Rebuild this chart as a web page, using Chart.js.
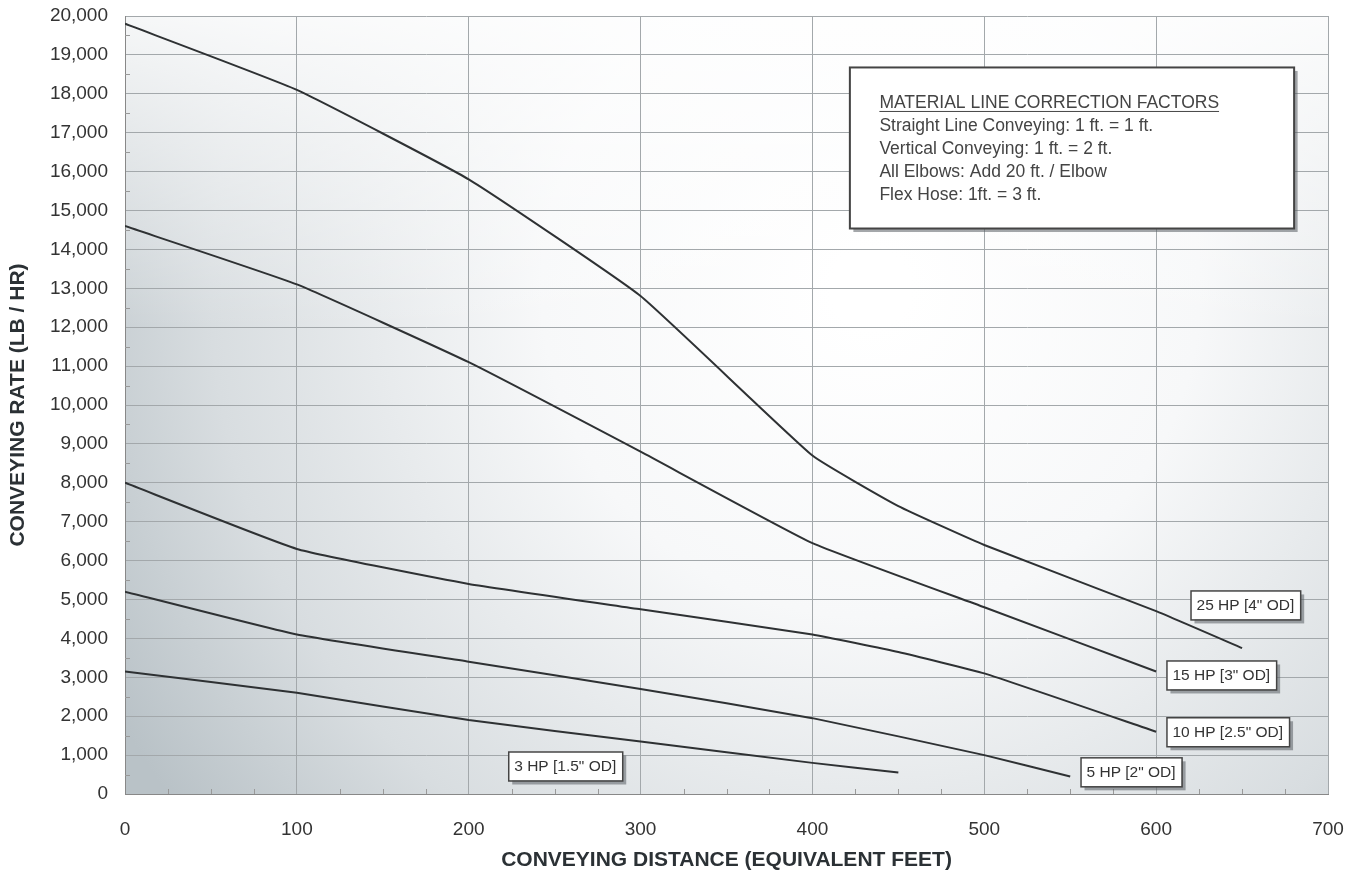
<!DOCTYPE html>
<html>
<head>
<meta charset="utf-8">
<title>Conveying Rate vs Distance</title>
<script src="https://cdn.jsdelivr.net/npm/chart.js"></script>
<style>
  html, body { margin: 0; padding: 0; background: #fff; }
  #wrap { width: 1358px; height: 873px; }
</style>
</head>
<body>
<div id="wrap"><canvas id="rateChart" width="1358" height="873"></canvas></div>
<script>
// distances (equivalent feet)
const dist25 = [0, 100, 200, 300, 400, 450, 500, 600, 650];
const hp25 = [19800, 18100, 15800, 12800, 8700, 7400, 6400, 4700, 3750];

const dist15 = [0, 100, 200, 300, 400, 500, 600];
const hp15 = [14600, 13100, 11100, 8800, 6450, 4800, 3150];

const dist10 = [0, 100, 200, 300, 400, 450, 500, 600];
const hp10 = [8000, 6300, 5400, 4750, 4100, 3650, 3100, 1600];

const dist5 = [0, 100, 200, 300, 400, 500, 550];
const hp5 = [5200, 4100, 3400, 2700, 1950, 1000, 450];

const dist3 = [0, 100, 200, 300, 400, 450];
const hp3 = [3150, 2600, 1900, 1350, 800, 550];

const seriesNames = ['25 HP [4" OD]', '15 HP [3" OD]', '10 HP [2.5" OD]', '5 HP [2" OD]', '3 HP [1.5" OD]'];
// where each tag sits (x, y in data units)
const tagX = [620, 606, 606, 556, 223];
const tagY = [4860, 3060, 1600, 570, 720];

const noteTitle = 'MATERIAL LINE CORRECTION FACTORS';
const noteLines = [
  'Straight Line Conveying: 1 ft. = 1 ft.',
  'Vertical Conveying: 1 ft. = 2 ft.',
  'All Elbows: Add 20 ft. / Elbow',
  'Flex Hose: 1ft. = 3 ft.'
];

function pts(xs, ys) {
  return xs.map((x, i) => ({ x: x, y: ys[i] }));
}

const FONT = '"Liberation Sans", Arial, sans-serif';

const bgPlugin = {
  id: 'bg',
  beforeDraw(chart) {
    const { ctx, chartArea: a } = chart;
    ctx.save();
    const g = ctx.createRadialGradient(a.left + a.width * 0.62, a.top + a.height * 0.35, 40,
                                       a.left + a.width * 0.62, a.top + a.height * 0.35, a.width * 0.72);
    g.addColorStop(0, '#ffffff');
    g.addColorStop(0.35, '#f7f8f9');
    g.addColorStop(0.75, '#d8dde0');
    g.addColorStop(1, '#b9c2c7');
    ctx.fillStyle = g;
    ctx.fillRect(a.left, a.top, a.width, a.height);
    // keep top band bright
    const g2 = ctx.createLinearGradient(0, a.top, 0, a.top + a.height * 0.4);
    g2.addColorStop(0, 'rgba(255,255,255,0.85)');
    g2.addColorStop(1, 'rgba(255,255,255,0)');
    ctx.fillStyle = g2;
    ctx.fillRect(a.left, a.top, a.width, a.height * 0.4);
    ctx.restore();
  }
};

function box(ctx, x, y, w, h, lw) {
  ctx.fillStyle = 'rgba(90,95,100,0.55)';
  ctx.fillRect(x + 4, y + 4, w, h);
  ctx.fillStyle = '#ffffff';
  ctx.fillRect(x, y, w, h);
  ctx.strokeStyle = '#444';
  ctx.lineWidth = lw;
  ctx.strokeRect(x + 0.5, y + 0.5, w, h);
}

const decoPlugin = {
  id: 'deco',
  afterDatasetsDraw(chart) {
    const { ctx, chartArea: a, scales } = chart;
    const xs = scales.x, ys = scales.y;
    ctx.save();
    // minor ticks
    ctx.strokeStyle = '#999';
    ctx.lineWidth = 1;
    for (let v = 25; v < 700; v += 25) {
      if (v % 100 === 0) continue;
      const px = Math.round(xs.getPixelForValue(v)) + 0.5;
      ctx.beginPath(); ctx.moveTo(px, a.bottom); ctx.lineTo(px, a.bottom - 5); ctx.stroke();
    }
    for (let v = 500; v < 20000; v += 1000) {
      const py = Math.round(ys.getPixelForValue(v)) + 0.5;
      ctx.beginPath(); ctx.moveTo(a.left, py); ctx.lineTo(a.left + 5, py); ctx.stroke();
    }

    // series tags
    ctx.font = '15.5px ' + FONT;
    ctx.textBaseline = 'middle';
    seriesNames.forEach((name, i) => {
      const x = xs.getPixelForValue(tagX[i]);
      const y = ys.getPixelForValue(tagY[i]);
      const w = ctx.measureText(name).width + 12;
      const h = 29;
      box(ctx, x, y - h / 2, w, h, 1.5);
      ctx.fillStyle = '#333';
      ctx.textAlign = 'left';
      ctx.fillText(name, x + 6, y + 1);
    });

    // correction factor note
    const nx = xs.getPixelForValue(421.5), ny = ys.getPixelForValue(18690);
    const nw = xs.getPixelForValue(680) - nx, nh = ys.getPixelForValue(14550) - ny;
    box(ctx, nx, ny, nw, nh, 2);
    ctx.fillStyle = '#444';
    ctx.font = '17.5px ' + FONT;
    ctx.textAlign = 'left';
    ctx.textBaseline = 'middle';
    const tx = nx + 30;
    let ty = ny + 36;
    ctx.fillText(noteTitle, tx, ty);
    const tw = ctx.measureText(noteTitle).width;
    ctx.strokeStyle = '#444';
    ctx.lineWidth = 1;
    ctx.beginPath(); ctx.moveTo(tx, ty + 8.5); ctx.lineTo(tx + tw, ty + 8.5); ctx.stroke();
    noteLines.forEach(line => {
      ty += 23;
      ctx.fillText(line, tx, ty);
    });
    ctx.restore();
  }
};

const lineStyle = {
  borderColor: '#2e3133',
  borderWidth: 2,
  pointRadius: 0,
  fill: false,
  tension: 0.12
};

new Chart(document.getElementById('rateChart'), {
  type: 'line',
  data: {
    datasets: [
      Object.assign({ label: seriesNames[0], data: pts(dist25, hp25) }, lineStyle),
      Object.assign({ label: seriesNames[1], data: pts(dist15, hp15) }, lineStyle),
      Object.assign({ label: seriesNames[2], data: pts(dist10, hp10) }, lineStyle),
      Object.assign({ label: seriesNames[3], data: pts(dist5, hp5) }, lineStyle),
      Object.assign({ label: seriesNames[4], data: pts(dist3, hp3) }, lineStyle)
    ]
  },
  options: {
    responsive: false,
    animation: false,
    layout: { padding: { left: 6, right: 30, top: 16, bottom: 0 } },
    plugins: {
      legend: { display: false },
      tooltip: { enabled: false }
    },
    scales: {
      x: {
        type: 'linear',
        min: 0, max: 700,
        afterFit: s => { s.height = 79; s.paddingLeft = 0; s.paddingRight = 0; },
        ticks: { stepSize: 100, padding: 24, color: '#333', font: { family: FONT, size: 19 } },
        grid: { color: '#a3a8ab', lineWidth: 1, drawTicks: false },
        border: { color: '#888', width: 1 },
        title: {
          display: true,
          text: 'CONVEYING DISTANCE (EQUIVALENT FEET)',
          color: '#2b3135',
          font: { family: FONT, size: 21, weight: 'bold' },
          padding: { top: 0, bottom: 0 }
        }
      },
      y: {
        min: 0, max: 20000,
        afterFit: s => { s.width = 119; s.paddingTop = 0; s.paddingBottom = 0; },
        ticks: {
          stepSize: 1000, padding: 17, color: '#333',
          font: { family: FONT, size: 19 },
          callback: v => v.toLocaleString('en-US')
        },
        grid: { color: '#a3a8ab', lineWidth: 1, drawTicks: false },
        border: { color: '#888', width: 1 },
        title: {
          display: true,
          text: 'CONVEYING RATE (LB / HR)',
          color: '#2b3135',
          font: { family: FONT, size: 21, weight: 'bold' },
          padding: { top: 0, bottom: 0 }
        }
      }
    }
  },
  plugins: [bgPlugin, decoPlugin]
});
</script>
</body>
</html>
